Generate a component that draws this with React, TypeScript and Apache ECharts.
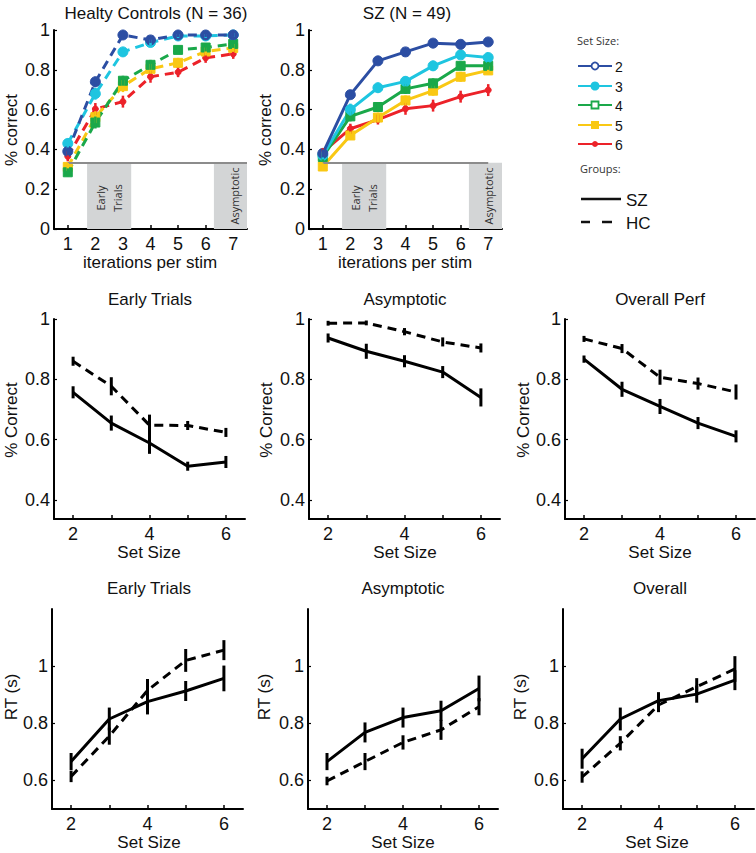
import React, { useEffect, useRef } from "react";
import * as echarts from "echarts";

const FONT = "'Liberation Sans', Arial, Helvetica, sans-serif";
const SANS2 = "'Open Sans', 'Noto Sans', sans-serif";

// ---------- Top row: learning curves ----------
const iterations = [1, 2, 3, 4, 5, 6, 7];
const iterationTicks = [1, 2, 3, 4, 5, 6, 7];
const pctTicksTop = [0, 0.2, 0.4, 0.6, 0.8, 1];
const setSizeLabels = ["2", "3", "4", "5", "6"];
const setSizeColors = ["#2c4ea3", "#1ec5e0", "#1aa84a", "#f9c814", "#ec2229"];

// Healthy controls (dashed)
const hc2 = [0.39, 0.74, 0.975, 0.95, 0.975, 0.975, 0.975];
const hc3 = [0.43, 0.68, 0.89, 0.937, 0.97, 0.97, 0.975];
const hc4 = [0.285, 0.535, 0.745, 0.825, 0.9, 0.912, 0.93];
const hc5 = [0.312, 0.562, 0.718, 0.805, 0.835, 0.892, 0.91];
const hc6 = [0.365, 0.603, 0.64, 0.765, 0.788, 0.86, 0.88];
const hcErr2 = [0.02, 0.025, 0.01, 0.015, 0.01, 0.01, 0.01];
const hcErr3 = [0.025, 0.03, 0.02, 0.015, 0.01, 0.01, 0.01];
const hcErr4 = [0.02, 0.03, 0.025, 0.025, 0.02, 0.02, 0.02];
const hcErr5 = [0.02, 0.03, 0.03, 0.025, 0.025, 0.02, 0.02];
const hcErr6 = [0.025, 0.03, 0.03, 0.03, 0.025, 0.025, 0.025];

// Schizophrenia (solid)
const sz2 = [0.38, 0.675, 0.845, 0.89, 0.934, 0.928, 0.94];
const sz3 = [0.37, 0.6, 0.71, 0.742, 0.82, 0.875, 0.862];
const sz4 = [0.362, 0.566, 0.613, 0.704, 0.732, 0.82, 0.82];
const sz5 = [0.314, 0.47, 0.56, 0.646, 0.695, 0.765, 0.797];
const sz6 = [0.386, 0.504, 0.55, 0.604, 0.62, 0.665, 0.698];
const szErr2 = [0.02, 0.02, 0.02, 0.015, 0.012, 0.012, 0.012];
const szErr3 = [0.02, 0.03, 0.025, 0.025, 0.025, 0.02, 0.02];
const szErr4 = [0.02, 0.025, 0.025, 0.025, 0.025, 0.02, 0.02];
const szErr5 = [0.015, 0.02, 0.025, 0.025, 0.025, 0.025, 0.02];
const szErr6 = [0.02, 0.025, 0.025, 0.03, 0.03, 0.03, 0.03];

const earlyWindow = [1.7, 3.3];
const asymWindowHC = [6.3, 7.5];
const asymWindowSZ = [6.3, 7.5];
const chanceLevel = 0.333;

// ---------- Middle row: accuracy by set size ----------
const setSizes = [2, 3, 4, 5, 6];
const setSizeTicks = [2, 4, 6];
const pctTicksMid = [0.4, 0.6, 0.8, 1];

const accEarlySZ = [0.757, 0.655, 0.589, 0.512, 0.526];
const accEarlySZErr = [0.02, 0.025, 0.036, 0.015, 0.02];
const accEarlyHC = [0.86, 0.777, 0.648, 0.647, 0.624];
const accEarlyHCErr = [0.015, 0.03, 0.035, 0.015, 0.015];

const accAsymSZ = [0.937, 0.893, 0.86, 0.824, 0.74];
const accAsymSZErr = [0.015, 0.025, 0.02, 0.02, 0.03];
const accAsymHC = [0.986, 0.987, 0.958, 0.924, 0.904];
const accAsymHCErr = [0.008, 0.008, 0.012, 0.015, 0.015];

const accOverallSZ = [0.867, 0.767, 0.71, 0.655, 0.611];
const accOverallSZErr = [0.012, 0.025, 0.025, 0.02, 0.02];
const accOverallHC = [0.934, 0.902, 0.807, 0.786, 0.758];
const accOverallHCErr = [0.01, 0.015, 0.025, 0.02, 0.025];

// ---------- Bottom row: RT by set size ----------
const rtTicks = [0.6, 0.8, 1];

const rtEarlySZ = [0.666, 0.815, 0.876, 0.913, 0.957];
const rtEarlySZErr = [0.03, 0.04, 0.045, 0.035, 0.045];
const rtEarlyHC = [0.614, 0.755, 0.915, 1.02, 1.056];
const rtEarlyHCErr = [0.02, 0.03, 0.04, 0.04, 0.035];

const rtAsymSZ = [0.666, 0.768, 0.82, 0.844, 0.922];
const rtAsymSZErr = [0.03, 0.035, 0.035, 0.035, 0.045];
const rtAsymHC = [0.598, 0.666, 0.733, 0.777, 0.858];
const rtAsymHCErr = [0.015, 0.03, 0.025, 0.035, 0.03];

const rtOverallSZ = [0.676, 0.815, 0.879, 0.902, 0.951];
const rtOverallSZErr = [0.035, 0.04, 0.03, 0.03, 0.035];
const rtOverallHC = [0.612, 0.73, 0.864, 0.928, 0.99];
const rtOverallHCErr = [0.02, 0.025, 0.025, 0.03, 0.045];

// ---------- helpers ----------
const TICK_FONT = 18;
const NAME_FONT = 17;
const TITLE_FONT = 17;

function xAxisCfg(gi: number, min: number, max: number, ticks: number[]) {
  return {
    type: "value",
    gridIndex: gi,
    min,
    max,
    axisLine: { show: true, onZero: false, lineStyle: { color: "#000", width: 2 } },
    axisTick: { show: true, inside: true, length: 4, customValues: ticks, lineStyle: { color: "#000", width: 1.5 } },
    axisLabel: { customValues: ticks, fontSize: TICK_FONT, color: "#111", margin: 6, fontFamily: FONT },
    splitLine: { show: false },
  };
}

function yAxisCfg(gi: number, min: number, max: number, ticks: number[]) {
  return {
    type: "value",
    gridIndex: gi,
    min,
    max,
    axisLine: { show: true, onZero: false, lineStyle: { color: "#000", width: 2 } },
    axisTick: { show: true, inside: true, length: 3, customValues: ticks, lineStyle: { color: "#000", width: 1.2 } },
    axisLabel: { customValues: ticks, fontSize: TICK_FONT, color: "#111", margin: 4, fontFamily: FONT },
    splitLine: { show: false },
  };
}

function lineSeries(gi: number, xs: number[], ys: number[], color: string, dashed: boolean, symbol: string, size: number) {
  return {
    type: "line",
    xAxisIndex: gi,
    yAxisIndex: gi,
    data: xs.map((x, i) => [x, ys[i]]),
    lineStyle: { color, width: 3, type: dashed ? [9, 6] : "solid" },
    itemStyle: { color, borderColor: color },
    symbol,
    symbolSize: size,
    showSymbol: symbol !== "none",
    silent: true,
    z: 4,
  };
}

function errSeries(gi: number, xs: number[], ys: number[], errs: number[], color: string, width: number) {
  return {
    type: "custom",
    xAxisIndex: gi,
    yAxisIndex: gi,
    data: xs.map((x, i) => [x, ys[i] - errs[i], ys[i] + errs[i]]),
    encode: { x: 0, y: [1, 2] },
    silent: true,
    z: 5,
    renderItem: (_params: any, api: any) => {
      const p1 = api.coord([api.value(0), api.value(1)]);
      const p2 = api.coord([api.value(0), api.value(2)]);
      return {
        type: "line",
        shape: { x1: p1[0], y1: p1[1], x2: p2[0], y2: p2[1] },
        style: { stroke: color, lineWidth: width },
      };
    },
  };
}

function windowSeries(gi: number, asym: number[], chanceEnd: number) {
  return {
    type: "line",
    xAxisIndex: gi,
    yAxisIndex: gi,
    data: [],
    silent: true,
    z: 1,
    markArea: {
      silent: true,
      itemStyle: { color: "#d3d5d6" },
      label: { show: false },
      data: [
        [{ xAxis: earlyWindow[0], yAxis: 0 }, { xAxis: earlyWindow[1], yAxis: chanceLevel }],
        [{ xAxis: asym[0], yAxis: 0 }, { xAxis: asym[1], yAxis: chanceLevel }],
      ],
    },
    markLine: {
      silent: true,
      symbol: "none",
      label: { show: false },
      lineStyle: { color: "#8c8c8c", width: 2, type: "solid" },
      data: [[{ coord: [1, chanceLevel] }, { coord: [chanceEnd, chanceLevel] }]],
    },
  };
}

const symbols = ["circle", "circle", "rect", "rect", "circle"];
const symbolSizes = [10, 10, 9, 9, 6];

function txt(x: number, y: number, text: string, size: number, extra: any = {}) {
  return {
    type: "text",
    x,
    y,
    silent: true,
    z: 10,
    style: {
      text,
      fontSize: size,
      fontFamily: FONT,
      fill: "#111",
      textAlign: "center",
      textVerticalAlign: "middle",
      ...extra,
    },
  };
}

function vtxt(x: number, y: number, text: string, size: number, extra: any = {}) {
  return { ...txt(x, y, text, size, extra), rotation: Math.PI / 2 };
}

function buildOption() {
  const grids = [
    { left: 54, top: 30, width: 193, height: 199 },
    { left: 309, top: 30, width: 193, height: 199 },
    { left: 54, top: 319, width: 191, height: 200 },
    { left: 309, top: 319, width: 191, height: 200 },
    { left: 565, top: 319, width: 190, height: 200 },
    { left: 52, top: 609, width: 191, height: 200 },
    { left: 308, top: 609, width: 190, height: 200 },
    { left: 563, top: 609, width: 191, height: 200 },
  ];
  const xAxes = [
    xAxisCfg(0, 0.5, 7.5, iterationTicks),
    xAxisCfg(1, 0.5, 7.5, iterationTicks),
    xAxisCfg(2, 1.5, 6.5, setSizeTicks),
    xAxisCfg(3, 1.5, 6.5, setSizeTicks),
    xAxisCfg(4, 1.5, 6.5, setSizeTicks),
    xAxisCfg(5, 1.5, 6.5, setSizeTicks),
    xAxisCfg(6, 1.5, 6.5, setSizeTicks),
    xAxisCfg(7, 1.5, 6.5, setSizeTicks),
  ];
  for (let i = 2; i < 8; i++) (xAxes[i] as any).axisTick.customValues = setSizes;
  const yAxes = [
    yAxisCfg(0, 0, 1, pctTicksTop),
    yAxisCfg(1, 0, 1, pctTicksTop),
    yAxisCfg(2, 0.337, 1, pctTicksMid),
    yAxisCfg(3, 0.337, 1, pctTicksMid),
    yAxisCfg(4, 0.337, 1, pctTicksMid),
    yAxisCfg(5, 0.5, 1.2, rtTicks),
    yAxisCfg(6, 0.5, 1.2, rtTicks),
    yAxisCfg(7, 0.5, 1.2, rtTicks),
  ];

  const series: any[] = [];
  series.push(windowSeries(0, asymWindowHC, 7.5));
  series.push(windowSeries(1, asymWindowSZ, 7));

  const hcCurves = [hc2, hc3, hc4, hc5, hc6];
  const hcErrs = [hcErr2, hcErr3, hcErr4, hcErr5, hcErr6];
  const szCurves = [sz2, sz3, sz4, sz5, sz6];
  const szErrs = [szErr2, szErr3, szErr4, szErr5, szErr6];
  for (let k = 4; k >= 0; k--) {
    const c = setSizeColors[k];
    series.push(lineSeries(0, iterations, hcCurves[k], c, true, symbols[k], symbolSizes[k]));
    series.push(errSeries(0, iterations, hcCurves[k], hcErrs[k], c, 2.5));
    series.push(lineSeries(1, iterations, szCurves[k], c, false, symbols[k], symbolSizes[k]));
    series.push(errSeries(1, iterations, szCurves[k], szErrs[k], c, 2.5));
  }

  const panels: [number, number[], number[], number[], number[]][] = [
    [2, accEarlySZ, accEarlySZErr, accEarlyHC, accEarlyHCErr],
    [3, accAsymSZ, accAsymSZErr, accAsymHC, accAsymHCErr],
    [4, accOverallSZ, accOverallSZErr, accOverallHC, accOverallHCErr],
    [5, rtEarlySZ, rtEarlySZErr, rtEarlyHC, rtEarlyHCErr],
    [6, rtAsymSZ, rtAsymSZErr, rtAsymHC, rtAsymHCErr],
    [7, rtOverallSZ, rtOverallSZErr, rtOverallHC, rtOverallHCErr],
  ];
  for (const [gi, sz, szE, hc, hcE] of panels) {
    series.push(lineSeries(gi, setSizes, hc, "#000", true, "none", 0));
    series.push(errSeries(gi, setSizes, hc, hcE, "#000", 3));
    series.push(lineSeries(gi, setSizes, sz, "#000", false, "none", 0));
    series.push(errSeries(gi, setSizes, sz, szE, "#000", 3));
  }

  const graphic: any[] = [
    // titles
    txt(156, 13, "Healty Controls (N = 36)", TITLE_FONT),
    txt(407, 13, "SZ (N = 49)", TITLE_FONT),
    txt(150, 299, "Early Trials", TITLE_FONT),
    txt(405, 299, "Asymptotic", TITLE_FONT),
    txt(660, 299, "Overall Perf", TITLE_FONT),
    txt(149, 588, "Early Trials", TITLE_FONT),
    txt(403, 588, "Asymptotic", TITLE_FONT),
    txt(660, 588, "Overall", TITLE_FONT),
    // x axis names
    txt(150, 262, "iterations per stim", NAME_FONT),
    txt(405, 262, "iterations per stim", NAME_FONT),
    txt(149, 552, "Set Size", NAME_FONT),
    txt(405, 552, "Set Size", NAME_FONT),
    txt(660, 552, "Set Size", NAME_FONT),
    txt(149, 842, "Set Size", NAME_FONT),
    txt(403, 842, "Set Size", NAME_FONT),
    txt(657, 842, "Set Size", NAME_FONT),
    // y axis names
    vtxt(11, 130, "% correct", NAME_FONT),
    vtxt(265, 130, "% correct", NAME_FONT),
    vtxt(11, 420, "% Correct", NAME_FONT),
    vtxt(266, 420, "% Correct", NAME_FONT),
    vtxt(523, 420, "% Correct", NAME_FONT),
    vtxt(11, 697, "RT (s)", NAME_FONT),
    vtxt(264, 697, "RT (s)", NAME_FONT),
    vtxt(520, 697, "RT (s)", NAME_FONT),
    // window labels
    vtxt(109, 198, "Early\nTrials", 11, { fontFamily: SANS2, fill: "#333", lineHeight: 17 }),
    vtxt(234, 196, "Asymptotic", 11, { fontFamily: SANS2, fill: "#333" }),
    vtxt(364, 198, "Early\nTrials", 11, { fontFamily: SANS2, fill: "#333", lineHeight: 17 }),
    vtxt(488, 196, "Asymptotic", 11, { fontFamily: SANS2, fill: "#333" }),
    // legend
    txt(577, 40, "Set Size:", 11, { fontFamily: SANS2, fill: "#333", textAlign: "left" }),
    txt(580, 168, "Groups:", 11, { fontFamily: SANS2, fill: "#333", textAlign: "left" }),
  ];

  const legendYs = [66, 86, 105, 125, 144];
  for (let k = 0; k < 5; k++) {
    const c = setSizeColors[k];
    const y = legendYs[k];
    graphic.push({ type: "line", silent: true, shape: { x1: 578, y1: y, x2: 612, y2: y }, style: { stroke: c, lineWidth: 2 } });
    if (k === 0) graphic.push({ type: "circle", silent: true, shape: { cx: 595, cy: y, r: 3.5 }, style: { fill: "#fff", stroke: c, lineWidth: 1.8 } });
    if (k === 1) graphic.push({ type: "circle", silent: true, shape: { cx: 595, cy: y, r: 4.5 }, style: { fill: c } });
    if (k === 2) graphic.push({ type: "rect", silent: true, shape: { x: 591.5, y: y - 3.5, width: 7, height: 7 }, style: { fill: "#fff", stroke: c, lineWidth: 1.8 } });
    if (k === 3) graphic.push({ type: "rect", silent: true, shape: { x: 591, y: y - 4, width: 8, height: 8 }, style: { fill: c } });
    if (k === 4) graphic.push({ type: "circle", silent: true, shape: { cx: 595, cy: y, r: 3 }, style: { fill: c } });
    graphic.push(txt(615, y + 1, setSizeLabels[k], 14, { textAlign: "left" }));
  }
  graphic.push({ type: "line", silent: true, shape: { x1: 581, y1: 199, x2: 621, y2: 199 }, style: { stroke: "#111", lineWidth: 2.5 } });
  graphic.push({ type: "line", silent: true, shape: { x1: 581, y1: 222, x2: 590, y2: 222 }, style: { stroke: "#111", lineWidth: 2.5 } });
  graphic.push({ type: "line", silent: true, shape: { x1: 602, y1: 222, x2: 612, y2: 222 }, style: { stroke: "#111", lineWidth: 2.5 } });
  graphic.push(txt(626, 200, "SZ", 17, { textAlign: "left" }));
  graphic.push(txt(626, 223, "HC", 17, { textAlign: "left" }));

  return {
    animation: false,
    backgroundColor: "#fff",
    textStyle: { fontFamily: FONT },
    grid: grids,
    xAxis: xAxes,
    yAxis: yAxes,
    series,
    graphic,
  };
}

export default function App() {
  const ref = useRef<HTMLDivElement>(null);
  useEffect(() => {
    const chart = echarts.init(ref.current!, null, { renderer: "svg" });
    chart.setOption(buildOption() as any);
    return () => chart.dispose();
  }, []);
  return (
    <div
      ref={ref}
      style={{ position: "absolute", left: 0, top: 0, width: 756, height: 853, background: "#fff" }}
    />
  );
}
